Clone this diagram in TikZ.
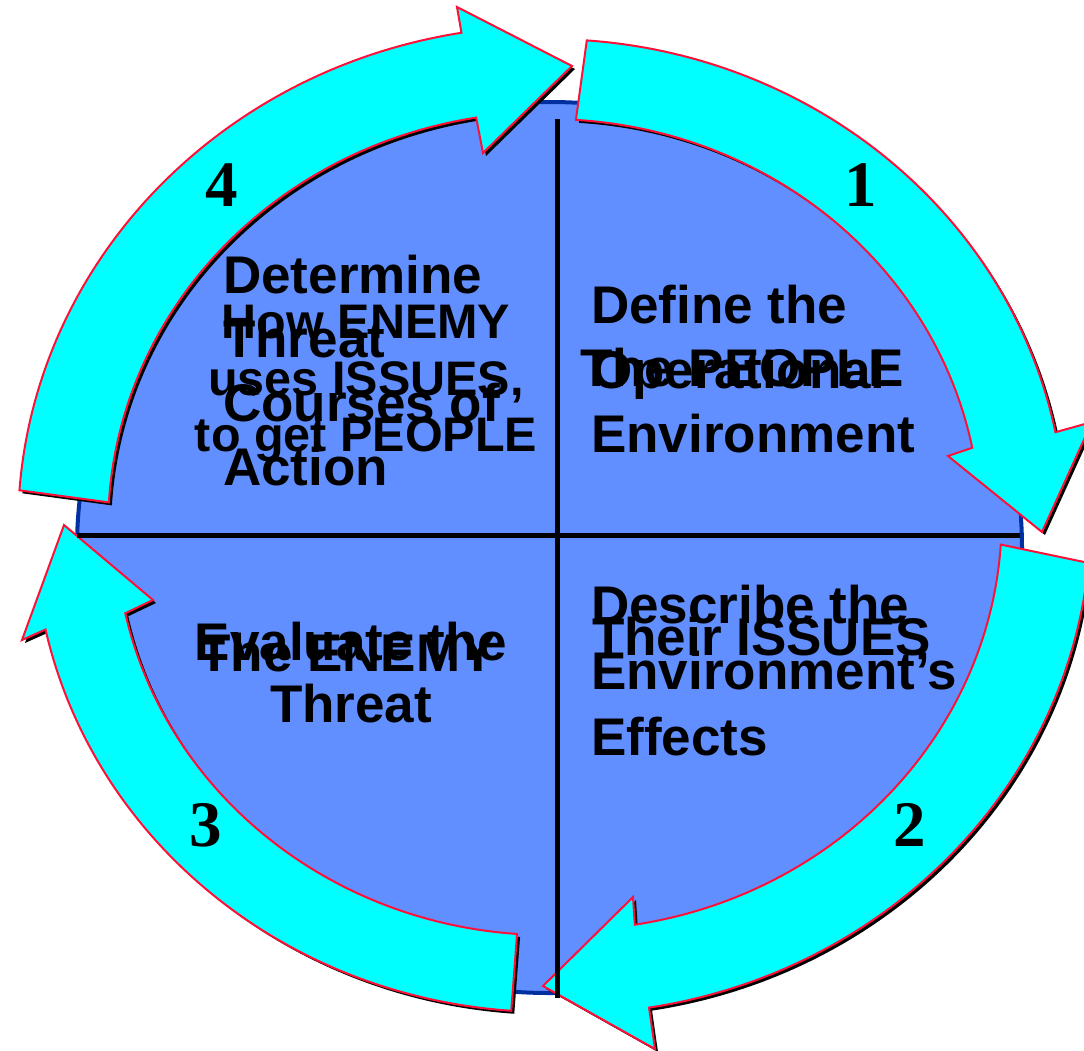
\documentclass[tikz,border=0pt]{standalone}
\usepackage{fontspec}
\setmainfont{Liberation Sans}
\newfontfamily\phasefont{Liberation Serif}
\usepackage{tikz}
\definecolor{discblue}{RGB}{98,143,255}
\definecolor{rimblue}{RGB}{0,48,160}
\definecolor{ringcyan}{RGB}{0,255,255}
\definecolor{ringred}{RGB}{255,16,56}

\begin{document}
\begin{tikzpicture}[x=1pt, y=-1pt,
    ring/.style={fill=ringcyan, draw=ringred, line width=2pt, line join=miter,
        preaction={fill=black, transform canvas={shift={(3pt,-3pt)}}}},
    panel text/.style={inner sep=0, font=\bfseries\fontsize{53}{64}\selectfont},
    phase no/.style={inner sep=0, font=\phasefont\bfseries\fontsize{65}{65}\selectfont}]
    \useasboundingbox (0, 0) rectangle (1084, 1050);
    \draw [fill=discblue, draw=rimblue, line width=4pt] (549.5, 547.5) ellipse [x radius=472.5, y radius=445.5];
    \coordinate (hub) at (548, 527);
    \coordinate (hubb) at (565, 518);
    % the four steps round the disc
    \draw [ring] ([shift={(-85.7:517.3 and 488)}]hub) arc [start angle=-85.7, end angle=-11.2, x radius=517.3, y radius=488]
        -- (1092, 422) -- (1042, 532) -- (948, 456)
        -- ([shift={(-11.2:432.5 and 408)}]hub) arc [start angle=-11.2, end angle=-86.3, x radius=432.5, y radius=408] -- cycle;
    \draw [ring] ([shift={(5.2:525.8 and 496)}]hubb) arc [start angle=5.2, end angle=80.8, x radius=525.8, y radius=496]
        -- (655, 1049) -- (543, 986) -- (633, 897)
        -- ([shift={(80.8:436.7 and 412)}]hubb) arc [start angle=80.8, end angle=3.7, x radius=436.7, y radius=412] -- cycle;
    \draw [ring] ([shift={(94.1:514.1 and 485)}]hub) arc [start angle=94.1, end angle=167.8, x radius=514.1, y radius=485]
        -- (22, 640) -- (64, 525) -- (153, 600)
        -- ([shift={(167.8:432.5 and 408)}]hub) arc [start angle=167.8, end angle=94.1, x radius=432.5, y radius=408] -- cycle;
    \draw [ring] ([shift={(-175.8:530 and 501)}]hub) arc [start angle=-175.8, end angle=-99.4, x radius=530, y radius=501]
        -- (457, 7) -- (572, 66) -- (483, 153)
        -- ([shift={(-99.4:439.9 and 415)}]hub) arc [start angle=-99.4, end angle=-176.6, x radius=439.9, y radius=415] -- cycle;
    \draw [line width=5pt] (77, 535.5) -- (1020, 535.5);
    \draw [line width=5pt] (557, 119) -- (557, 998);
    \node (determine) [panel text, align=left, anchor=north west] at (223, 255) {Determine\\Threat\\Courses of\\Action};
    \node (howenemy) [panel text, font=\bfseries\fontsize{48.5}{56.5}\selectfont, align=center, anchor=north] at (366, 305) {How ENEMY\\uses ISSUES,\\to get PEOPLE};
    \node (define) [panel text, font=\bfseries\fontsize{53}{64.5}\selectfont, align=left, anchor=north west] at (591, 285) {Define the\\Operational\\Environment};
    \node (people) [panel text, anchor=base] at (742, 386) {The PEOPLE};
    \node (evaluate) [panel text, font=\bfseries\fontsize{53}{62}\selectfont, align=center, anchor=north] at (351, 622) {Evaluate the\\Threat};
    \node (enemy) [panel text, anchor=base] at (347, 671) {The ENEMY};
    \node (describe) [panel text, font=\bfseries\fontsize{53}{66}\selectfont, align=left, anchor=north west] at (591, 585) {Describe the\\Environment’s\\Effects};
    \node (issues) [panel text, anchor=base west] at (592, 655) {Their ISSUES};
    \node (one) [phase no] at (861, 185) {1};
    \node (two) [phase no] at (910, 825) {2};
    \node (three) [phase no] at (206, 825) {3};
    \node (four) [phase no] at (222, 185) {4};
\end{tikzpicture}
\end{document}
